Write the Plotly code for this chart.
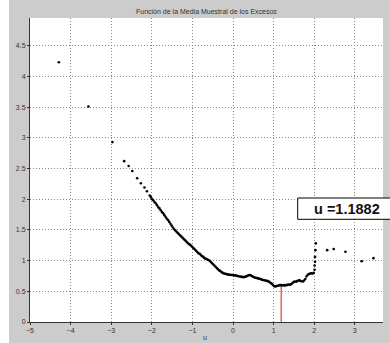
import plotly.graph_objects as go

# ---- data ----
u_sparse = [-4.29, -3.56, -2.97, -2.68, -2.57, -2.48, -2.36, -2.27, -2.18, -2.12]
e_sparse = [4.23, 3.51, 2.93, 2.62, 2.54, 2.46, 2.34, 2.26, 2.19, 2.13]

u_dense = [-2.05, -2.02, -1.99, -1.96, -1.93, -1.90, -1.87, -1.84, -1.81, -1.78,
           -1.75, -1.72, -1.69, -1.66, -1.63, -1.60, -1.57, -1.54, -1.51, -1.48,
           -1.45, -1.42, -1.39, -1.36, -1.33, -1.30, -1.27, -1.24, -1.21, -1.18,
           -1.15, -1.12, -1.09, -1.06, -1.03, -1.00, -0.97, -0.94, -0.91, -0.88,
           -0.85, -0.82, -0.79, -0.76, -0.73, -0.70, -0.67, -0.64, -0.61, -0.58,
           -0.55, -0.52, -0.49, -0.46, -0.43, -0.40, -0.37, -0.34, -0.31, -0.28,
           -0.25, -0.22, -0.19, -0.16, -0.13, -0.10, -0.07, -0.04, -0.01, 0.02,
           0.05, 0.08, 0.11, 0.14, 0.17, 0.20, 0.23, 0.26, 0.29, 0.32,
           0.35, 0.38, 0.41, 0.44, 0.47, 0.50, 0.53, 0.56, 0.59, 0.62,
           0.65, 0.68, 0.71, 0.74, 0.77, 0.80, 0.83, 0.86, 0.89, 0.92,
           0.95, 0.98, 1.01, 1.04, 1.07, 1.10, 1.13, 1.16, 1.19, 1.22,
           1.25, 1.28, 1.31, 1.34, 1.37, 1.40, 1.43, 1.46, 1.49, 1.52,
           1.55, 1.58, 1.61, 1.64, 1.67, 1.72, 1.75, 1.78, 1.81, 1.84,
           1.87, 1.90, 1.93, 1.96, 1.99, 2.01, 2.01, 2.02, 2.02, 2.03, 2.04]
e_dense = [2.06, 2.03, 2.00, 1.98, 1.95, 1.93, 1.90, 1.87, 1.85, 1.82,
           1.79, 1.77, 1.74, 1.71, 1.68, 1.66, 1.63, 1.60, 1.57, 1.54,
           1.51, 1.49, 1.47, 1.45, 1.43, 1.41, 1.39, 1.37, 1.35, 1.33,
           1.31, 1.29, 1.27, 1.26, 1.24, 1.22, 1.20, 1.18, 1.16, 1.14,
           1.12, 1.11, 1.09, 1.07, 1.06, 1.04, 1.03, 1.02, 1.01, 1.00,
           0.98, 0.96, 0.94, 0.92, 0.90, 0.88, 0.86, 0.84, 0.83, 0.81,
           0.80, 0.79, 0.785, 0.78, 0.775, 0.77, 0.77, 0.765, 0.765, 0.76,
           0.76, 0.755, 0.75, 0.745, 0.74, 0.735, 0.735, 0.73, 0.735, 0.74,
           0.75, 0.76, 0.765, 0.76, 0.745, 0.735, 0.725, 0.72, 0.715, 0.71,
           0.705, 0.70, 0.69, 0.685, 0.68, 0.675, 0.67, 0.665, 0.655, 0.64,
           0.625, 0.605, 0.585, 0.58, 0.585, 0.59, 0.595, 0.60, 0.60, 0.595,
           0.60, 0.595, 0.60, 0.605, 0.61, 0.605, 0.615, 0.63, 0.65, 0.66,
           0.655, 0.665, 0.675, 0.68, 0.665, 0.66, 0.675, 0.70, 0.74, 0.77,
           0.78, 0.79, 0.795, 0.79, 0.80, 0.85, 0.92, 0.98, 1.06, 1.17, 1.28]

u_tail = [2.32, 2.48, 2.77, 3.17, 3.46]
e_tail = [1.17, 1.19, 1.145, 0.99, 1.04]

u_threshold = 1.1882
e_at_threshold = 0.59

x_ticks = [-5, -4, -3, -2, -1, 0, 1, 2, 3]
y_ticks = [0, 0.5, 1, 1.5, 2, 2.5, 3, 3.5, 4, 4.5]
y_tick_labels = ["0", "0.5", "1", "1.5", "2", "2.5", "3", "3.5", "4", "4.5"]

title_text = "Función de la Media Muestral de los Excesos"
x_label = "u"
box_text = "u =1.1882"

# ---- figure ----
W, H = 390, 343
L, R, T, B = 30, 7, 18, 21
pw, ph = W - L - R, H - T - B

fig = go.Figure()
fig.add_trace(go.Scatter(x=[u_threshold, u_threshold], y=[0, e_at_threshold],
                         mode="lines", line=dict(color="#e06666", width=1.5),
                         hoverinfo="skip"))
fig.add_trace(go.Scatter(x=u_sparse + u_dense + u_tail,
                         y=e_sparse + e_dense + e_tail,
                         mode="markers",
                         marker=dict(color="black", size=2.6, line=dict(width=0))))

font_small = dict(family="Liberation Sans, Arial, sans-serif", size=7, color="#333333")

axis_common = dict(showgrid=True, gridcolor="#8a8a8a", griddash="1px,2px", gridwidth=1,
                   zeroline=False, showline=True, linecolor="#333333", linewidth=1,
                   ticks="outside", ticklen=2, tickcolor="#333333",
                   tickfont=font_small, automargin=False)

fig.update_layout(
    width=W, height=H,
    margin=dict(l=L, r=R, t=T, b=B, pad=0),
    paper_bgcolor="#cccccc",
    plot_bgcolor="white",
    showlegend=False,
    font=font_small,
    xaxis=dict(range=[-5, -5 + pw / 40.6], tickvals=x_ticks, **axis_common),
    yaxis=dict(range=[0, ph / 61.4], tickvals=y_ticks, ticktext=y_tick_labels,
               **axis_common),
    shapes=[
        # white strip at left edge of the image
        dict(type="rect", xref="paper", yref="paper",
             x0=(0 - L) / pw, x1=(9 - L) / pw, y0=-1, y1=2,
             fillcolor="white", line=dict(width=0), layer="below"),
        # text box
        dict(type="rect", xref="paper", yref="paper",
             x0=(297.7 - L) / pw, x1=(396 - L) / pw,
             y0=(H - B - 219.3) / ph, y1=(H - B - 198) / ph,
             fillcolor="white", line=dict(color="black", width=1), layer="above"),
    ],
    annotations=[
        dict(text=title_text, xref="paper", yref="paper", x=0.5,
             y=(H - B - 11) / ph, xanchor="center", yanchor="middle",
             showarrow=False, font=font_small),
        dict(text=x_label, xref="paper", yref="paper", x=(205 - L) / pw,
             y=(H - B - 337.5) / ph, xanchor="center", yanchor="middle",
             showarrow=False, font=font_small),
        dict(text="<b>" + box_text + "</b>", xref="paper", yref="paper",
             x=(312 - L) / pw, y=(H - B - 209) / ph, xanchor="left", yanchor="middle",
             showarrow=False,
             font=dict(family="Liberation Sans, Arial", size=14.5, color="#111111")),
    ],
)

fig.write_html("out.html",
               config={"displayModeBar": False},
               post_script="document.body.style.margin='0';document.body.style.overflow='hidden';")
